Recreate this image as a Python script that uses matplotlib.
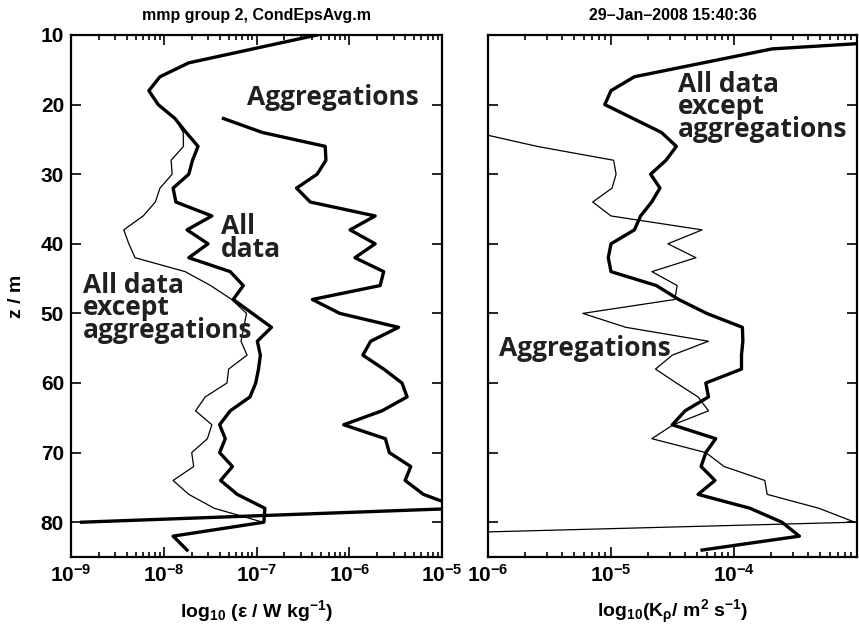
import numpy as np
import matplotlib.pyplot as plt
from matplotlib.ticker import LogLocator, NullFormatter

plt.rcParams['font.family'] = ['Liberation Sans', 'DejaVu Sans']
plt.rcParams['font.weight'] = 'bold'
plt.rcParams['mathtext.fontset'] = 'custom'
plt.rcParams['mathtext.rm'] = 'Liberation Sans:bold'
plt.rcParams['mathtext.bf'] = 'Liberation Sans:bold'
plt.rcParams['mathtext.it'] = 'Liberation Sans:bold'

# left panel: dissipation rate epsilon (W/kg) against depth z (m)
z_all = [10, 14, 16, 18, 20, 22, 24, 26, 28, 30, 32, 34, 36, 38, 40, 42, 44, 46, 48,
         52, 54, 56, 58, 60, 62, 64, 66, 68, 70, 72, 74, 76, 78, 80, 82, 84]
eps_all = [4.5e-7, 1.86e-8, 9.1e-9, 6.9e-9, 8.7e-9, 1.32e-8, 1.74e-8, 2.34e-8, 2.04e-8,
           1.86e-8, 1.26e-8, 1.35e-8, 3.3e-8, 1.78e-8, 3.0e-8, 1.86e-8, 5.2e-8, 7.2e-8,
           5.6e-8, 1.45e-7, 1.02e-7, 1.10e-7, 1.05e-7, 9.8e-8, 8.5e-8, 5.2e-8, 4.0e-8,
           4.6e-8, 4.0e-8, 5.5e-8, 4.1e-8, 6.2e-8, 1.23e-7, 1.20e-7, 1.26e-8, 1.78e-8]

z_noagg = [10, 14, 16, 18, 20, 22, 24, 26, 28, 30, 32, 34, 36, 38, 40, 42, 44, 46, 48,
           50, 54, 56, 58, 60, 62, 64, 66, 68, 70, 72, 74, 76, 78, 80, 82, 84]
eps_noagg = [4.5e-7, 1.86e-8, 9.1e-9, 6.9e-9, 8.7e-9, 1.32e-8, 1.62e-8, 1.63e-8, 1.2e-8,
             1.23e-8, 9.1e-9, 8.1e-9, 6.0e-9, 3.7e-9, 4.2e-9, 4.9e-9, 1.7e-8, 3.2e-8,
             5.4e-8, 7.8e-8, 6.8e-8, 7.9e-8, 5.0e-8, 4.8e-8, 2.8e-8, 2.2e-8, 3.3e-8,
             2.95e-8, 2.0e-8, 2.1e-8, 1.26e-8, 1.86e-8, 3.5e-8, 1.17e-7, 1.26e-8, 1.78e-8]

z_agg = [22, 24, 26, 28, 30, 32, 34, 36, 38, 40, 42, 44, 46, 48, 50, 52, 54, 56, 58, 60,
         62, 64, 66, 68, 70, 72, 74, 76, 78, 80]
eps_agg = [4.4e-8, 1.15e-7, 5.5e-7, 5.6e-7, 4.5e-7, 2.7e-7, 3.8e-7, 1.9e-6, 1.02e-6,
           1.9e-6, 1.15e-6, 2.35e-6, 2.15e-6, 4.0e-7, 7.9e-7, 3.4e-6, 1.7e-6, 1.4e-6,
           2.35e-6, 3.7e-6, 4.2e-6, 2.25e-6, 8.7e-7, 2.45e-6, 2.7e-6, 4.6e-6, 4.0e-6,
           6.3e-6, 1.6e-5, 1.3e-9]

# right panel: diapycnal diffusivity K_rho (m^2/s)
zk_noagg = [10, 12, 16, 18, 20, 24, 26, 28, 30, 32, 34, 36, 38, 40, 42, 44, 46, 48, 50,
            52, 54, 56, 58, 60, 62, 64, 66, 68, 70, 72, 74, 76, 78, 80, 82, 84]
k_noagg = [1.41e-2, 2.04e-4, 1.55e-5, 1.0e-5, 8.9e-6, 2.57e-5, 3.4e-5, 2.8e-5, 2.1e-5,
           2.5e-5, 2.14e-5, 1.74e-5, 1.55e-5, 1.0e-5, 9.5e-6, 1.0e-5, 2.34e-5, 3.55e-5,
           6.0e-5, 1.17e-4, 1.18e-4, 1.15e-4, 1.15e-4, 5.9e-5, 6.2e-5, 4.0e-5, 3.15e-5,
           7.1e-5, 5.9e-5, 5.4e-5, 7.0e-5, 5.1e-5, 1.35e-4, 2.45e-4, 3.4e-4, 5.5e-5]

zk_agg = [24, 26, 28, 30, 32, 34, 36, 38, 40, 42, 44, 46, 48, 50, 52, 54, 56, 58, 60, 62,
          64, 66, 68, 70, 72, 74, 76, 78, 80, 82]
k_agg = [7.9e-7, 2.5e-6, 1.05e-5, 1.1e-5, 1.02e-5, 7.1e-6, 1.0e-5, 5.5e-5, 2.9e-5, 4.9e-5,
         2.15e-5, 3.45e-5, 3.3e-5, 5.9e-6, 1.32e-5, 6.2e-5, 3.15e-5, 2.3e-5, 3.4e-5, 5.1e-5,
         6.2e-5, 3.2e-5, 2.15e-5, 5.9e-5, 8.3e-5, 1.78e-4, 1.86e-4, 4.9e-4, 9.6e-4, 5e-8]

eps_ticks = [1e-9, 1e-8, 1e-7, 1e-6, 1e-5]
eps_labels = [r'$10^{-9}$', r'$10^{-8}$', r'$10^{-7}$', r'$10^{-6}$', r'$10^{-5}$']
k_ticks = [1e-6, 1e-5, 1e-4]
k_labels = [r'$10^{-6}$', r'$10^{-5}$', r'$10^{-4}$']
z_ticks = [10, 20, 30, 40, 50, 60, 70, 80]

lab_font = dict(family=['Open Sans', 'DejaVu Sans'], weight='bold', fontsize=19,
                color='#231f20', linespacing=0.78)

fig = plt.figure(figsize=(8.59, 6.36), dpi=100)
ax1 = fig.add_axes([0.0827, 0.1242, 0.4319, 0.8208])
ax2 = fig.add_axes([0.5681, 0.1242, 0.4296, 0.8208])

ax1.plot(eps_noagg, z_noagg, color='k', lw=0.9)
ax1.plot(eps_all, z_all, color='k', lw=2.4)
ax1.plot(eps_agg, z_agg, color='k', lw=2.4)

ax2.plot(k_agg, zk_agg, color='k', lw=0.9)
ax2.plot(k_noagg, zk_noagg, color='k', lw=2.4)

ax1.set_xscale('log')
ax2.set_xscale('log')
ax1.set_xlim(1e-9, 1e-5)
ax1.set_xticks(eps_ticks, eps_labels)
ax2.set_xlim(1e-6, 1e-3)
ax2.set_xticks(k_ticks, k_labels)

for ax in (ax1, ax2):
    ax.set_ylim(85, 10)
    ax.set_yticks(z_ticks)
    ax.xaxis.set_minor_locator(LogLocator(base=10, subs=np.arange(2, 10), numticks=200))
    ax.xaxis.set_minor_formatter(NullFormatter())
    ax.tick_params(which='both', direction='in', top=True, right=True,
                   labelsize=15, width=1.2)
    ax.tick_params(which='major', length=7, pad=5)
    ax.tick_params(which='minor', length=3.5)
    for s in ax.spines.values():
        s.set_linewidth(1.6)

ax2.set_yticklabels([])

ax1.set_title('mmp group 2, CondEpsAvg.m', fontsize=11.5, fontweight='bold', pad=11)
ax2.set_title('29\u2013Jan\u20132008 15:40:36', fontsize=11.5, fontweight='bold', pad=11)
ax1.set_ylabel('z / m', fontsize=14, fontweight='bold', labelpad=11)
ax1.set_xlabel(r'log$_{10}$ (ε / W kg$^{-1}$)', fontsize=14, fontweight='bold', labelpad=9)
ax2.set_xlabel(r'log$_{10}$(K$_{\mathrm{ρ}}$/ m$^2$ s$^{-1}$)', fontsize=14,
               fontweight='bold', labelpad=9)

ax1.text(0.475, 0.866, 'Aggregations', transform=ax1.transAxes, **lab_font)
ax1.text(0.405, 0.575, 'All\ndata', transform=ax1.transAxes, **lab_font)
ax1.text(0.033, 0.42, 'All data\nexcept\naggregations', transform=ax1.transAxes, **lab_font)
ax2.text(0.515, 0.805, 'All data\nexcept\naggregations', transform=ax2.transAxes, **lab_font)
ax2.text(0.03, 0.385, 'Aggregations', transform=ax2.transAxes, **lab_font)

fig.savefig('out.png', dpi=100)
